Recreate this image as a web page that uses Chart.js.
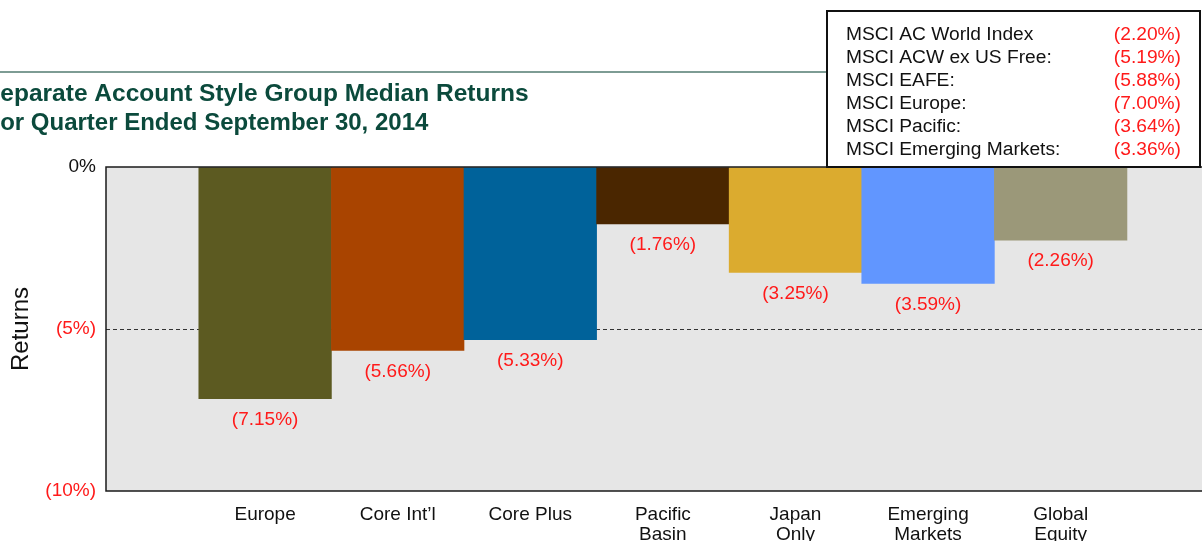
<!DOCTYPE html>
<html><head><meta charset="utf-8">
<script src="https://cdn.jsdelivr.net/npm/chart.js@4.4.1/dist/chart.umd.min.js"></script>
<style>html,body{margin:0;padding:0;background:#fff;overflow:hidden}canvas{display:block}</style>
</head><body><canvas id="c" width="1202" height="541"></canvas>
<script>
// ---- data ----
const categories = [['Europe'], ['Core Int\u2019l'], ['Core Plus'], ['Pacific', 'Basin'], ['Japan', 'Only'], ['Emerging', 'Markets'], ['Global', 'Equity']];
const returns = [-7.15, -5.66, -5.33, -1.76, -3.25, -3.59, -2.26];
const barColors = ['#5c5a21', '#a94400', '#00629a', '#4a2600', '#dbab2f', '#6196ff', '#9b9879'];
const yTicks = [0, -5, -10];
const yTickLabels = ['0%', '(5%)', '(10%)'];
const indexNames = ['MSCI AC World Index', 'MSCI ACW ex US Free:', 'MSCI EAFE:', 'MSCI Europe:', 'MSCI Pacific:', 'MSCI Emerging Markets:'];
const indexReturns = [-2.20, -5.19, -5.88, -7.00, -3.64, -3.36];
const titleLines = ['Separate Account Style Group Median Returns', 'For Quarter Ended September 30, 2014'];

// ---- style ----
const FONT = '"Liberation Sans", Arial, sans-serif';
const RED = '#ff1a1a';
const fmt = v => '(' + Math.abs(v).toFixed(2) + '%)';

const decor = {
  id: 'decor',
  beforeDraw(chart) {
    const {ctx, chartArea: a} = chart;
    ctx.save();
    ctx.fillStyle = '#e6e6e6';
    ctx.fillRect(a.left, a.top, a.right - a.left, a.bottom - a.top);
    ctx.restore();
  },
  afterDatasetsDraw(chart) {
    const {ctx, chartArea: a} = chart;
    const meta = chart.getDatasetMeta(0);
    ctx.save();
    ctx.font = '19px ' + FONT;
    ctx.fillStyle = RED;
    ctx.textAlign = 'center';
    ctx.textBaseline = 'middle';
    meta.data.forEach((bar, i) => ctx.fillText(fmt(returns[i]), bar.x, bar.y + 21));
    ctx.strokeStyle = '#1a1a1a';
    ctx.lineWidth = 1.5;
    ctx.beginPath();
    ctx.moveTo(a.right + 2, a.top);
    ctx.lineTo(a.left, a.top);
    ctx.lineTo(a.left, a.bottom);
    ctx.lineTo(a.right + 2, a.bottom);
    ctx.stroke();
    ctx.restore();
  },
  afterDraw(chart) {
    const {ctx} = chart;
    ctx.save();
    // rule under header
    ctx.strokeStyle = '#7d9c94';
    ctx.lineWidth = 2;
    ctx.beginPath(); ctx.moveTo(0, 72); ctx.lineTo(827, 72); ctx.stroke();
    // title
    ctx.fillStyle = '#0b4a3c';
    ctx.textAlign = 'left';
    ctx.textBaseline = 'alphabetic';
    ctx.font = 'bold 24.5px ' + FONT;
    ctx.fillText(titleLines[0], -16, 101);
    ctx.font = 'bold 24px ' + FONT;
    ctx.fillText(titleLines[1], -14.5, 130);
    // index box
    ctx.fillStyle = '#fff';
    ctx.fillRect(827, 11, 373, 156);
    ctx.strokeStyle = '#111';
    ctx.lineWidth = 2;
    ctx.strokeRect(827, 11, 373, 156);
    ctx.font = '19.2px ' + FONT;
    indexNames.forEach((n, i) => {
      const y = 39.5 + 23.1 * i;
      ctx.fillStyle = '#111';
      ctx.textAlign = 'left';
      ctx.fillText(n, 846, y);
      ctx.fillStyle = RED;
      ctx.textAlign = 'right';
      ctx.fillText(fmt(indexReturns[i]), 1181, y);
    });
    ctx.restore();
  }
};

new Chart(document.getElementById('c'), {
  type: 'bar',
  data: {
    datasets: [{
      data: returns.map((v, i) => ({x: i, y: v})),
      backgroundColor: barColors,
      borderWidth: 0,
      categoryPercentage: 1,
      barPercentage: 1
    }]
  },
  options: {
    responsive: false,
    animation: false,
    layout: {padding: {top: 167, left: 0, right: 0, bottom: 0}},
    plugins: {legend: {display: false}, tooltip: {enabled: false}},
    scales: {
      x: {
        type: 'linear', min: -1.2, max: 7.066, offset: false,
        grid: {display: false, offset: false},
        border: {display: false},
        ticks: {
          stepSize: 1, includeBounds: false, autoSkip: false, maxRotation: 0, minRotation: 0,
          padding: 6.5, color: '#111',
          font: {family: FONT, size: 19, lineHeight: 1.02},
          callback: v => (Number.isInteger(v) && v >= 0 && v < categories.length) ? categories[v] : ''
        },
        afterFit: s => { s.height = 50; }
      },
      y: {
        min: -10, max: 0,
        grid: {
          color: c => (c.tick && c.tick.value === -5) ? '#333' : 'rgba(0,0,0,0)',
          drawTicks: false, lineWidth: 1
        },
        border: {display: false, dash: [4, 3]},
        ticks: {
          stepSize: 5, padding: 10,
          color: c => (c.tick && c.tick.value === 0) ? '#111' : RED,
          font: {family: FONT, size: 19},
          callback: v => { const k = yTicks.indexOf(v); return k >= 0 ? yTickLabels[k] : ''; }
        },
        title: {display: true, text: 'Returns', color: '#111', font: {family: FONT, size: 24}, padding: {top: 7, bottom: 0}},
        afterFit: s => { s.width = 106; }
      }
    }
  },
  plugins: [decor]
});
</script></body></html>
